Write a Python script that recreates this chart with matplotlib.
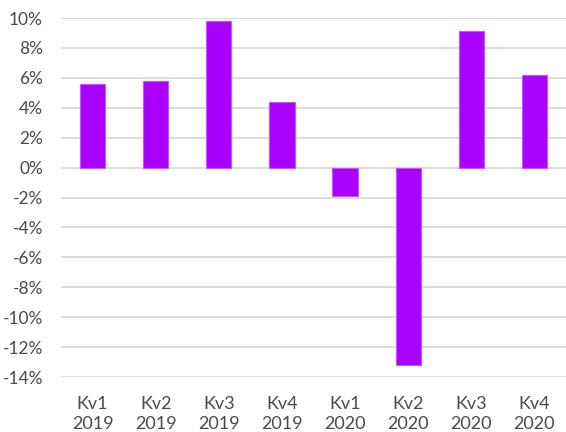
import numpy as np, matplotlib; matplotlib.use("Agg")
import matplotlib.pyplot as plt
from matplotlib.ticker import FuncFormatter

quarters = ['Kv1\n2019', 'Kv2\n2019', 'Kv3\n2019', 'Kv4\n2019', 'Kv1\n2020', 'Kv2\n2020', 'Kv3\n2020', 'Kv4\n2020']
growth = [5.6, 5.8, 9.8, 4.4, -1.9, -13.2, 9.1, 6.2]
yticks = list(range(-14, 11, 2))

plt.rcParams['font.family'] = ['Lato', 'DejaVu Sans']
fig = plt.figure(figsize=(5.66, 4.32), dpi=100)
ax = fig.add_axes([61/566, 55/432, 505/566, 359/432])
x = np.arange(len(quarters))
ax.bar(x, growth, 0.4, color='#AA00FF', edgecolor='#C455FF', lw=0.8, zorder=3)
ax.set_xlim(-0.5, len(quarters) - 0.5); ax.set_ylim(-14, 10)
ax.set_yticks(yticks)
ax.yaxis.set_major_formatter(FuncFormatter(lambda v, p: f"{v:.0f}%"))
ax.set_xticks(x); ax.set_xticklabels(quarters, linespacing=1.3)
ax.grid(axis='y', color='#D9D9D9', lw=1.3, zorder=0)
ax.tick_params(length=0, labelsize=12.5, labelcolor='#4a4a4a')
ax.tick_params(axis='y', pad=13); ax.tick_params(axis='x', labelsize=13, pad=14)
for sp in ax.spines.values(): sp.set_visible(False)
fig.savefig("out.png", dpi=100)
